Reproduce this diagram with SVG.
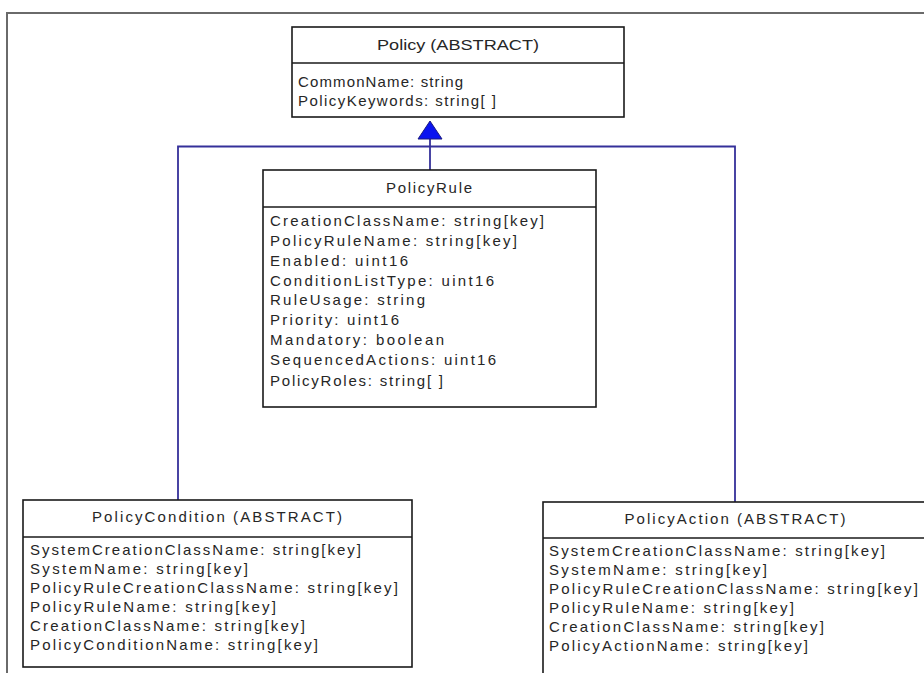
<svg xmlns="http://www.w3.org/2000/svg" width="924" height="673" viewBox="0 0 924 673">
  <style>
    .frame { fill: none; stroke: #6a6a6a; stroke-width: 2; }
    .box { fill: #ffffff; stroke: #1a1a1a; stroke-width: 1.6; }
    .sep { stroke: #1a1a1a; stroke-width: 1.6; }
    .conn { fill: none; stroke: #35309a; stroke-width: 1.8; }
    .head { fill: #0a14f0; stroke: #1a1a80; stroke-width: 1; }
    text { font-family: "Liberation Sans", Arial, sans-serif; font-size: 15px; fill: #262626; }
    .title { text-anchor: middle; }
  </style>

  <!-- outer page frame -->
  <path class="frame" d="M7,673 V13 H924"/>

  <!-- inheritance connectors -->
  <g id="connectors">
    <path class="conn" d="M178,500 V146.5 H735 V502"/>
    <path class="conn" d="M430,139 V170"/>
    <polygon class="head" points="430,121 418,139 442,139"/>
  </g>

  <!-- Policy (abstract base class) -->
  <g id="policy">
    <rect class="box" x="292" y="27" width="332" height="90"/>
    <line class="sep" x1="292" y1="63" x2="624" y2="63"/>
    <text class="title" x="458" y="50" textLength="162" lengthAdjust="spacingAndGlyphs">Policy (ABSTRACT)</text>
    <text x="298" y="87" textLength="165" lengthAdjust="spacing">CommonName:  string</text>
    <text x="298" y="106" textLength="198" lengthAdjust="spacing">PolicyKeywords:  string[ ]</text>
  </g>

  <!-- PolicyRule -->
  <g id="policy-rule">
    <rect class="box" x="263" y="170" width="333" height="237"/>
    <line class="sep" x1="263" y1="207" x2="596" y2="207"/>
    <text class="title" x="429" y="193" textLength="86" lengthAdjust="spacing">PolicyRule</text>
    <text x="270" y="226" textLength="274" lengthAdjust="spacing">CreationClassName:  string[key]</text>
    <text x="270" y="246" textLength="247" lengthAdjust="spacing">PolicyRuleName:  string[key]</text>
    <text x="270" y="266" textLength="138" lengthAdjust="spacing">Enabled:  uint16</text>
    <text x="270" y="286" textLength="224" lengthAdjust="spacing">ConditionListType:  uint16</text>
    <text x="270" y="305" textLength="155" lengthAdjust="spacing">RuleUsage:  string</text>
    <text x="270" y="325" textLength="129" lengthAdjust="spacing">Priority:  uint16</text>
    <text x="270" y="345" textLength="174" lengthAdjust="spacing">Mandatory:  boolean</text>
    <text x="270" y="365" textLength="226" lengthAdjust="spacing">SequencedActions:  uint16</text>
    <text x="270" y="386" textLength="173" lengthAdjust="spacing">PolicyRoles: string[ ]</text>
  </g>

  <!-- PolicyCondition (abstract) -->
  <g id="policy-condition">
    <rect class="box" x="23" y="500" width="389" height="167"/>
    <line class="sep" x1="23" y1="537" x2="412" y2="537"/>
    <text class="title" x="217" y="522" textLength="250" lengthAdjust="spacing">PolicyCondition (ABSTRACT)</text>
    <text x="30" y="555" textLength="331" lengthAdjust="spacing">SystemCreationClassName:  string[key]</text>
    <text x="30" y="574" textLength="218" lengthAdjust="spacing">SystemName:  string[key]</text>
    <text x="30" y="593" textLength="368" lengthAdjust="spacing">PolicyRuleCreationClassName:  string[key]</text>
    <text x="30" y="612" textLength="246" lengthAdjust="spacing">PolicyRuleName:  string[key]</text>
    <text x="30" y="631" textLength="275" lengthAdjust="spacing">CreationClassName:  string[key]</text>
    <text x="30" y="650" textLength="288" lengthAdjust="spacing">PolicyConditionName:  string[key]</text>
  </g>

  <!-- PolicyAction (abstract) -->
  <g id="policy-action">
    <rect class="box" x="543" y="502" width="386" height="180"/>
    <line class="sep" x1="543" y1="538" x2="924" y2="538"/>
    <text class="title" x="735" y="524" textLength="221" lengthAdjust="spacing">PolicyAction (ABSTRACT)</text>
    <text x="549" y="556" textLength="336" lengthAdjust="spacing">SystemCreationClassName:  string[key]</text>
    <text x="549" y="575" textLength="218" lengthAdjust="spacing">SystemName:  string[key]</text>
    <text x="549" y="594" textLength="369" lengthAdjust="spacing">PolicyRuleCreationClassName: string[key]</text>
    <text x="549" y="613" textLength="245" lengthAdjust="spacing">PolicyRuleName:  string[key]</text>
    <text x="549" y="632" textLength="275" lengthAdjust="spacing">CreationClassName:  string[key]</text>
    <text x="549" y="651" textLength="259" lengthAdjust="spacing">PolicyActionName:  string[key]</text>
  </g>
</svg>
